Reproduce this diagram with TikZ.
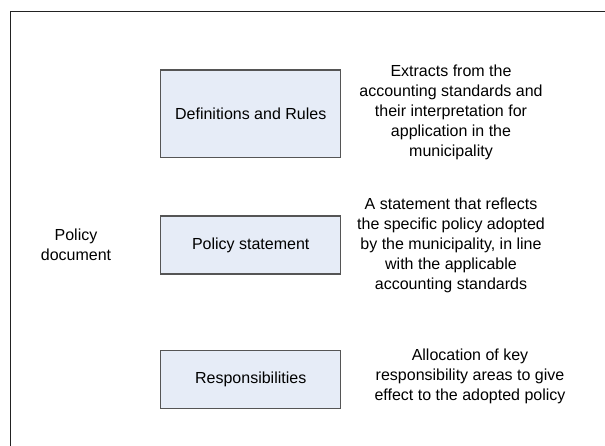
\documentclass[tikz,border=0pt]{standalone}
\usepackage{fontspec}
\setmainfont{Liberation Sans}
\definecolor{boxfill}{HTML}{E6ECF7}
\definecolor{boxline}{HTML}{555555}
\definecolor{frameline}{HTML}{222222}
\tikzset{
  stepbox/.style={draw=boxline, fill=boxfill, line width=1.1pt, minimum width=180pt, minimum height=#1, inner sep=0pt, font=\fontsize{16}{20}\selectfont},
  desc/.style={align=center, inner sep=0pt, font=\fontsize{16}{20}\selectfont},
}
\begin{document}
\begin{tikzpicture}[x=1pt,y=-1pt]
\useasboundingbox (0,0) rectangle (605,446);
\coordinate (fb) at (10.7,446);
\coordinate (fc) at (10.7,11.3);
\coordinate (fr) at (605,11.3);
\draw[frameline, line width=1.2pt] (fb) -- (fc) -- (fr);
\node[stepbox=87.3pt] (defs) at (250.7,113.7) {Definitions and Rules};
\node[stepbox=58pt] (pol) at (250.7,245) {Policy statement};
\node[stepbox=58pt] (resp) at (250.7,379.7) {Responsibilities};
\node[desc] (pd) at (76,245) {Policy\\document};
\node[desc] (t1) at (451,112) {Extracts from the\\accounting standards and\\their interpretation for\\application in the\\municipality};
\node[desc] (t2) at (451,245.5) {A statement that reflects\\the specific policy adopted\\by the municipality, in line\\with the applicable\\accounting standards};
\node[desc] (t3) at (470,376) {Allocation of key\\responsibility areas to give\\effect to the adopted policy};
\end{tikzpicture}
\end{document}
